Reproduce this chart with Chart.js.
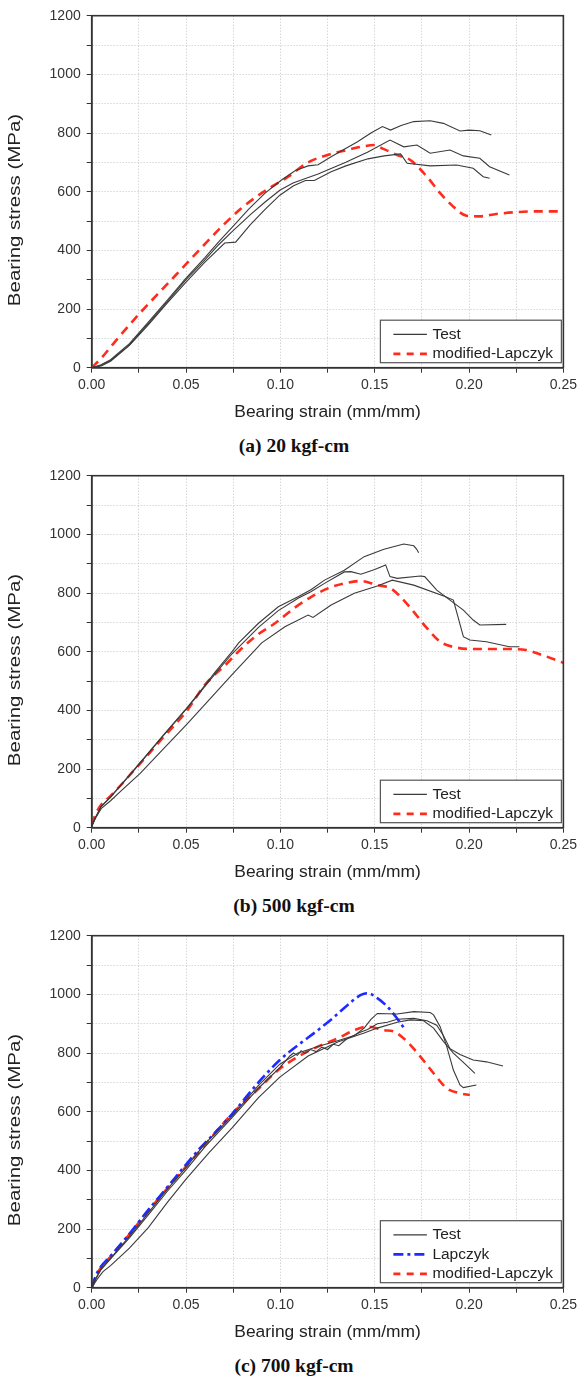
<!DOCTYPE html>
<html>
<head>
<meta charset="utf-8">
<script src="https://cdn.jsdelivr.net/npm/chart.js@4.4.0/dist/chart.umd.min.js"></script>
<style>
  html, body { margin: 0; padding: 0; background: #fff; overflow: hidden; }
  .panel { position: relative; width: 581px; height: 460px; }
  .panel canvas { position: absolute; left: 0; top: 0; }
  .cap { position: absolute; left: 0; width: 588px; top: 434px; text-align: center;
         font: bold 19.5px "Times New Roman", "Liberation Serif", serif; color: #111; line-height: 24px; }
</style>
</head>
<body>
<div class="panel"><canvas id="chartA" width="581" height="430"></canvas><div class="cap">(a) 20 kgf-cm</div></div>
<div class="panel"><canvas id="chartB" width="581" height="430"></canvas><div class="cap">(b) 500 kgf-cm</div></div>
<div class="panel"><canvas id="chartC" width="581" height="430"></canvas><div class="cap">(c) 700 kgf-cm</div></div>
<script>
// axis text
var xTitle = 'Bearing strain (mm/mm)';
var yTitle = 'Bearing stress (MPa)';

// (a) 20 kgf-cm  -- [strain, stress MPa]
var a_test1 = [[0,0],[0.005,10],[0.01,27],[0.02,82],[0.03,155],[0.04,230],[0.05,305],[0.06,375],[0.0674,430],[0.0744,478],[0.0831,540],[0.0919,595],[0.1006,640],[0.108,672],[0.1147,688],[0.12,692],[0.1269,719],[0.1339,745],[0.1409,770],[0.148,800],[0.1541,822],[0.1584,810],[0.164,826],[0.1707,839],[0.1794,842],[0.1864,833],[0.1952,807],[0.2,810],[0.2057,808],[0.2118,793]];
var a_test2 = [[0,0],[0.005,8],[0.01,24],[0.02,78],[0.03,150],[0.04,225],[0.05,300],[0.06,368],[0.0674,420],[0.0744,464],[0.0841,522],[0.0919,565],[0.0997,605],[0.1067,630],[0.1133,645],[0.12,660],[0.1347,700],[0.1464,735],[0.1581,776],[0.1654,753],[0.1724,759],[0.1794,731],[0.1899,742],[0.197,722],[0.2057,714],[0.2109,685],[0.2214,657]];
var a_test3 = [[0,0],[0.005,6],[0.01,22],[0.02,76],[0.03,146],[0.04,220],[0.05,292],[0.06,360],[0.0705,425],[0.0763,428],[0.0841,488],[0.0919,540],[0.0997,588],[0.107,620],[0.1133,638],[0.118,638],[0.1269,668],[0.1347,688],[0.1464,712],[0.155,722],[0.1637,729],[0.1672,697],[0.1794,688],[0.1934,691],[0.2022,680],[0.2075,651],[0.2109,646]];
var a_modLap = [[0,0],[0.005,32],[0.0125,90],[0.0254,185],[0.0375,268],[0.0446,316],[0.0586,412],[0.0691,482],[0.0787,540],[0.0867,580],[0.0954,617],[0.1041,651],[0.1147,700],[0.1234,722],[0.1339,740],[0.1427,753],[0.1497,759],[0.1549,745],[0.1619,725],[0.1689,708],[0.1777,651],[0.1847,595],[0.1917,549],[0.1987,518],[0.2057,516],[0.2144,524],[0.2267,531],[0.2372,533],[0.25,533]];

// (b) 500 kgf-cm
var b_test1 = [[0,5],[0.002,35],[0.005,72],[0.01,105],[0.0257,222],[0.0375,312],[0.05,405],[0.0569,460],[0.0656,532],[0.0744,600],[0.0779,630],[0.0884,697],[0.0989,753],[0.1094,787],[0.1164,812],[0.1234,844],[0.1339,878],[0.1444,924],[0.1549,949],[0.1654,967],[0.1707,961],[0.1722,950],[0.1733,937]];
var b_test2 = [[0,5],[0.002,35],[0.005,72],[0.01,104],[0.0257,220],[0.0375,310],[0.05,403],[0.0569,457],[0.0656,526],[0.0744,593],[0.0884,683],[0.0989,740],[0.1094,782],[0.1164,805],[0.1234,833],[0.1339,872],[0.1374,873],[0.1427,864],[0.15,880],[0.1558,896],[0.1581,856],[0.1619,850],[0.1742,858],[0.1765,856],[0.1829,810],[0.1899,776],[0.197,742],[0.2022,708],[0.2057,691],[0.2197,693]];
var b_test3 = [[0,5],[0.002,32],[0.005,65],[0.01,92],[0.015,122],[0.0257,185],[0.0375,265],[0.05,350],[0.0621,435],[0.0744,522],[0.0901,630],[0.1024,685],[0.1147,725],[0.1173,717],[0.1269,759],[0.1392,799],[0.1514,824],[0.1593,844],[0.1707,827],[0.1873,788],[0.1917,776],[0.197,651],[0.2004,640],[0.2092,634],[0.2214,617],[0.2267,617]];
var b_modLap = [[0,10],[0.002,45],[0.005,78],[0.01,108],[0.0257,219],[0.0375,305],[0.05,395],[0.0604,490],[0.0709,555],[0.0796,612],[0.0884,660],[0.0972,697],[0.1076,750],[0.1164,787],[0.1252,816],[0.1339,833],[0.1427,841],[0.1514,827],[0.1584,816],[0.1637,787],[0.1707,736],[0.1777,680],[0.1847,634],[0.1934,614],[0.2022,609],[0.2214,609],[0.2302,606],[0.2372,592],[0.246,572],[0.25,562]];

// (c) 700 kgf-cm
var c_test1 = [[0,0],[0.002,30],[0.005,65],[0.01,100],[0.02,175],[0.03,255],[0.04,335],[0.05,410],[0.06,490],[0.0744,585],[0.0884,690],[0.0997,762],[0.1094,800],[0.1199,822],[0.1304,842],[0.1392,860],[0.1444,885],[0.148,915],[0.1514,935],[0.1619,933],[0.1707,941],[0.1794,938],[0.1812,930],[0.1847,890],[0.1882,822],[0.1917,742],[0.1952,691],[0.197,682],[0.2039,691]];
var c_test2 = [[0,0],[0.002,28],[0.005,62],[0.01,98],[0.02,170],[0.03,248],[0.04,328],[0.05,402],[0.06,480],[0.0744,580],[0.0884,680],[0.0997,750],[0.105,790],[0.107,800],[0.109,792],[0.111,808],[0.113,798],[0.116,812],[0.119,805],[0.122,820],[0.125,812],[0.128,830],[0.131,825],[0.134,842],[0.1357,850],[0.1427,872],[0.1462,880],[0.1514,900],[0.1567,905],[0.1619,915],[0.1707,918],[0.1777,910],[0.1829,895],[0.1864,860],[0.1899,815],[0.1952,795],[0.2022,776],[0.2092,770],[0.218,756]];
var c_test3 = [[0,0],[0.003,30],[0.006,55],[0.01,75],[0.02,135],[0.03,205],[0.04,290],[0.05,370],[0.0621,460],[0.0744,545],[0.0884,648],[0.0997,718],[0.1147,790],[0.1304,838],[0.1444,868],[0.1514,885],[0.1619,905],[0.1689,913],[0.1759,910],[0.1812,885],[0.1864,840],[0.1917,800],[0.1987,758],[0.2031,731]];
var c_lap = [[0,0],[0.002,38],[0.004,64],[0.01,108],[0.02,184],[0.0296,262],[0.04,342],[0.05,420],[0.0569,472],[0.0656,530],[0.0744,592],[0.0884,700],[0.0997,776],[0.1094,827],[0.1199,878],[0.1287,924],[0.1357,964],[0.1427,998],[0.1462,1004],[0.1514,987],[0.1567,958],[0.1619,918],[0.1663,878]];
var c_modLap = [[0,0],[0.002,35],[0.004,60],[0.01,106],[0.02,182],[0.03,262],[0.04,338],[0.05,413],[0.0586,476],[0.0744,593],[0.0867,668],[0.0989,742],[0.1094,788],[0.1199,822],[0.1304,850],[0.1392,878],[0.1462,890],[0.1549,878],[0.1602,873],[0.1672,839],[0.1742,788],[0.1812,731],[0.1882,680],[0.1952,663],[0.2004,657]];

var fontFam = '"Liberation Sans", Arial, Helvetica, sans-serif';

function toXY(arr) {
  return arr.map(function(p) { return {x: p[0], y: p[1]}; });
}

function testSet(arr) {
  return {label: 'Test', data: toXY(arr), borderColor: '#3a3a3a', borderWidth: 1.1, tension: 0, legendDash: []};
}
function modLapSet(arr) {
  return {label: 'modified-Lapczyk', data: toXY(arr), borderColor: '#ff2b1c', borderWidth: 2.6,
          borderDash: [9, 6], cubicInterpolationMode: 'monotone', legendDash: [7, 6.3]};
}
function lapSet(arr) {
  return {label: 'Lapczyk', data: toXY(arr), borderColor: '#1f2bff', borderWidth: 2.6,
          borderDash: [11, 4, 3, 4], cubicInterpolationMode: 'monotone', legendDash: [10, 4, 3, 4]};
}

// box around plot, boxed legend in lower right, y title
var framePlugin = {
  id: 'frame',
  afterDraw: function(chart) {
    var a = chart.chartArea, ctx = chart.ctx;
    ctx.save();
    ctx.setLineDash([]);
    ctx.strokeStyle = '#333';
    ctx.lineWidth = 1.6;
    ctx.strokeRect(a.left, a.top, a.right - a.left, a.bottom - a.top);

    var seen = [], items = [];
    chart.data.datasets.forEach(function(ds) {
      if (seen.indexOf(ds.label) < 0) { seen.push(ds.label); items.push(ds); }
    });
    var rowH = 19.5, w = 181, h = items.length * rowH + 3.5;
    var left = a.right - 2 - w, top = a.bottom - 5 - h;
    ctx.fillStyle = '#fff';
    ctx.fillRect(left, top, w, h);
    ctx.lineWidth = 1.2;
    ctx.strokeStyle = '#555';
    ctx.strokeRect(left, top, w, h);
    ctx.font = '15.5px ' + fontFam;
    ctx.textBaseline = 'middle';
    ctx.textAlign = 'left';
    items.forEach(function(ds, i) {
      var y = top + 14.2 + i * rowH;
      ctx.setLineDash(ds.legendDash || []);
      ctx.strokeStyle = ds.borderColor;
      ctx.lineWidth = ds.label === 'Test' ? 1.1 : ds.borderWidth;
      ctx.beginPath();
      ctx.moveTo(left + 13, y);
      ctx.lineTo(left + 46.5, y);
      ctx.stroke();
      ctx.setLineDash([]);
      ctx.fillStyle = '#222';
      ctx.fillText(ds.label, left + 52, y);
    });

    ctx.translate(15.7, a.top + (a.bottom - a.top) * 0.552);
    ctx.rotate(-Math.PI / 2);
    ctx.scale(1.28, 1);
    ctx.font = '16px ' + fontFam;
    ctx.textAlign = 'center';
    ctx.fillStyle = '#222';
    ctx.fillText(yTitle, 0, 0);
    ctx.restore();
  }
};

function makeChart(id, datasets) {
  var ctx = document.getElementById(id).getContext('2d');
  return new Chart(ctx, {
    type: 'line',
    data: {datasets: datasets},
    options: {
      responsive: false,
      animation: false,
      devicePixelRatio: 1,
      layout: {padding: {left: 0, right: 13.3, top: 15.7, bottom: 0}},
      elements: {point: {radius: 0}},
      plugins: {legend: {display: false}, tooltip: {enabled: false}},
      scales: {
        x: {
          type: 'linear', min: 0, max: 0.25,
          ticks: {
            stepSize: 0.025, autoSkip: false, maxRotation: 0, padding: 4, color: '#333',
            font: {family: fontFam, size: 14},
            callback: function(v) { return Math.round(v * 1000) % 50 === 0 ? v.toFixed(2) : ''; }
          },
          grid: {color: '#c4c4c4', tickColor: '#333', tickLength: 5, tickWidth: 1},
          border: {color: '#333', width: 1.6, dash: [1, 2]},
          title: {display: true, text: xTitle, color: '#222', font: {family: fontFam, size: 17.4},
                  padding: {top: 0, bottom: 7}},
          afterFit: function(s) { s.height = 62.3; }
        },
        y: {
          type: 'linear', min: 0, max: 1200,
          ticks: {
            stepSize: 100, padding: 6, color: '#333',
            font: {family: fontFam, size: 14},
            callback: function(v) { return v % 200 === 0 ? String(v) : ''; }
          },
          grid: {color: '#c4c4c4', tickColor: '#333', tickLength: 5, tickWidth: 1},
          border: {color: '#333', width: 1.6, dash: [1, 2]},
          afterFit: function(s) { s.width = 91.7; }
        }
      }
    },
    plugins: [framePlugin]
  });
}

makeChart('chartA', [testSet(a_test1), testSet(a_test2), testSet(a_test3), modLapSet(a_modLap)]);
makeChart('chartB', [testSet(b_test1), testSet(b_test2), testSet(b_test3), modLapSet(b_modLap)]);
makeChart('chartC', [testSet(c_test1), testSet(c_test2), testSet(c_test3), lapSet(c_lap), modLapSet(c_modLap)]);
</script>
</body>
</html>
